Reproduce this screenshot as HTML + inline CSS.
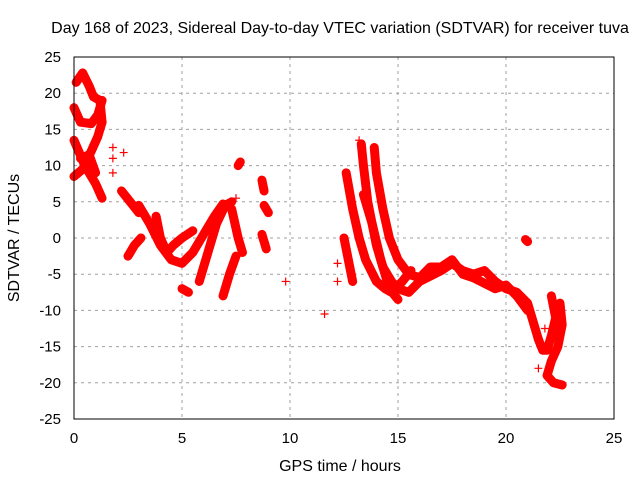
<!DOCTYPE html>
<html><head><meta charset="utf-8"><style>
html,body{margin:0;padding:0;background:#fff}
svg{display:block;font-family:"Liberation Sans",sans-serif}
</style></head><body>
<svg id="c" width="640" height="480" viewBox="0 0 640 480">
<text x="340" y="33" font-size="16" text-anchor="middle">Day 168 of 2023, Sidereal Day-to-day VTEC variation (SDTVAR) for receiver tuva</text>
<text x="340" y="471" font-size="16" text-anchor="middle">GPS time / hours</text>
<text transform="translate(19,238) rotate(-90)" font-size="16" text-anchor="middle">SDTVAR / TECUs</text>
<g id="grid"></g>
<g id="ticks"></g>
<g id="data"></g>
<rect x="74" y="57" width="540" height="362" fill="none" stroke="#000" stroke-width="1"/>
</svg>
<script>
const xTicks=[0,5,10,15,20,25];
const yTicks=[-25,-20,-15,-10,-5,0,5,10,15,20,25];
const tracks=[
[[0.1,21.5],[0.4,22.8],[0.7,21],[0.9,19.5],[1.2,19],[1.3,16]],
[[0,18],[0.3,16],[0.8,15.8],[1.1,17],[1.3,19]],
[[0,13.5],[0.5,10],[1,7.5],[1.3,5.5]],
[[0,8.5],[0.4,9.5],[0.8,12],[1.1,14],[1.3,16]],
[[0.3,11],[0.7,11.5],[1.0,9]],
[[2.2,6.5],[2.6,5],[3.0,3.5]],
[[2.5,-2.5],[2.8,-1],[3.1,0]],
[[3,4.5],[3.5,2],[4,-1],[4.5,-3],[5,-3.5],[5.5,-2],[6,0.5],[6.5,3],[6.9,4.7]],
[[3.8,3],[4,0],[4.3,-2],[4.6,-1],[5,0],[5.5,1]],
[[5,-7],[5.3,-7.5]],
[[5.8,-6],[6.2,-2],[6.6,2],[7,4.5],[7.3,5]],
[[6.9,-8],[7.2,-5],[7.5,-2.5]],
[[7.3,4],[7.6,0],[7.8,-2]],
[[7.6,10],[7.7,10.5]],
[[8.7,8],[8.8,6.5]],
[[8.8,4.5],[9,3.5]],
[[8.7,0.5],[8.9,-1.5]],
[[13.3,13],[13.4,10],[13.6,5],[13.8,2],[14,-1],[14.3,-4],[14.7,-6],[15,-7],[15.5,-7.5],[16,-6],[17,-4.5],[17.5,-3.5],[18,-4.5],[18.5,-5],[19,-4.5],[19.5,-6],[20,-7],[20.5,-7.5],[21,-9],[21.3,-12],[21.5,-14]],
[[13.9,12.5],[14,9],[14.3,4],[14.6,0],[15,-3],[15.5,-5],[16,-5.5],[16.5,-4],[17,-4],[17.5,-3],[18,-5],[18.5,-5.5],[19.5,-7],[20,-6.5],[20.5,-8],[21,-10]],
[[12.6,9],[12.9,4],[13.2,0],[13.5,-3],[14,-6],[14.4,-7],[14.7,-7.5],[15.2,-6],[15.6,-4.5]],
[[12.5,0],[12.7,-3],[12.9,-6]],
[[13.4,6],[13.8,2],[14.2,-3],[14.6,-7],[15,-8.5]],
[[20.9,-0.2],[21,-0.5]],
[[21.5,-14],[21.7,-15.5],[21.9,-15.5],[22.1,-13.5],[22.3,-11],[22.1,-8]],
[[22.5,-9],[22.6,-12],[22.4,-15],[22.1,-17],[21.9,-19],[22.2,-20],[22.6,-20.3]]
];
const singles=[[1.8,12.5],[1.8,11],[1.8,9],[2.3,11.8],[7.5,5.5],[9.8,-6],[11.6,-10.5],[12.2,-3.5],[12.2,-6],[21.8,-12.5],[21.5,-18],[13.2,13.5]];
const X=v=>74+v/25*540, Y=v=>238-v/50*362;
const NS='http://www.w3.org/2000/svg';
const mk=(t,a,p)=>{const e=document.createElementNS(NS,t);for(const k in a)e.setAttribute(k,a[k]);p.appendChild(e);return e;};
const g=document.getElementById('grid'),tk=document.getElementById('ticks'),d=document.getElementById('data');
xTicks.forEach(v=>{
 if(v>0&&v<25){const l=mk('line',{x1:X(v),x2:X(v),y1:57,y2:419,stroke:'#a0a0a0','stroke-dasharray':'3,4'},g);
 
 }
 const t=mk('text',{x:X(v),y:443,'font-size':15,'text-anchor':'middle'},tk);t.textContent=v;
 
 
});
yTicks.forEach(v=>{
 if(v>-25&&v<25){const l=mk('line',{x1:74,x2:614,y1:Y(v),y2:Y(v),stroke:'#a0a0a0','stroke-dasharray':'3,4'},g);
 
 }
 const t=mk('text',{x:61,y:Y(v)+5,'font-size':15,'text-anchor':'end'},tk);t.textContent=v;
 
 
});
tracks.forEach(tr=>{
 const p=mk('polyline',{points:tr.map(q=>X(q[0])+','+Y(q[1])).join(' '),fill:'none',stroke:'#ff0000','stroke-width':9,'stroke-linejoin':'round','stroke-linecap':'round'},d);
 
 
});
singles.forEach(q=>{
 const x=X(q[0]),y=Y(q[1]);
 const p=mk('path',{d:`M${x-4},${y}H${x+4}M${x},${y-4}V${y+4}`,stroke:'#ff0000','stroke-width':1.2},d);
 
 
});
</script>
</body></html>
